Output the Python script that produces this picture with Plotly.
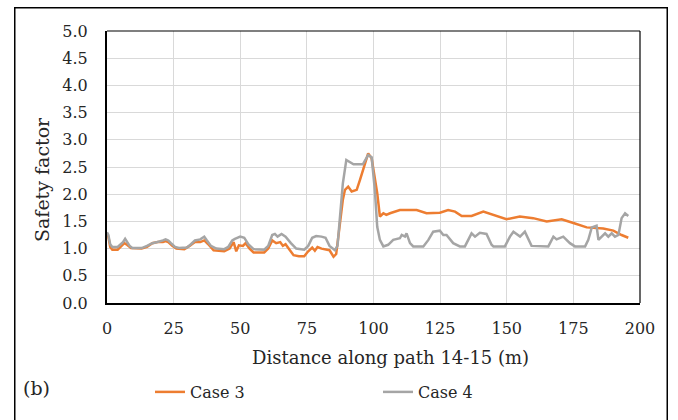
import plotly.graph_objects as go

# Case 3 (orange)
case3_x = [0, 0.5, 1.2, 2, 4, 5, 6.5, 7.5, 9, 13, 15, 17, 19, 21, 22, 23, 24.5, 26, 29, 31, 33, 35, 36.5, 38,
           40, 44, 46, 47.5, 48.5, 49.5, 51, 52, 53.5, 55, 59, 60.5, 62, 63.5, 65, 66, 67, 68.5, 70, 72, 74,
           75.5, 77, 78, 79, 80.5, 82, 83.5, 85, 86, 87, 88.5, 89.3, 90.5, 91.8, 93.7, 94.9, 96.2, 98, 99.3,
           100.5, 101.4, 102.4, 103.7, 104.8, 106.2, 109.9, 116.2, 119.9, 124.9, 128, 130.6, 133.1, 136.8,
           141.2, 144.9, 149.9, 154.9, 159.9, 165, 170.6, 175, 180, 186.2, 190, 193.1, 195.6]
case3_y = [1.28, 1.22, 1.03, 0.98, 0.98, 1.03, 1.10, 1.07, 1.01, 1.00, 1.03, 1.10, 1.12, 1.12, 1.14, 1.12, 1.05,
           1.00, 0.99, 1.05, 1.12, 1.12, 1.15, 1.08, 0.97, 0.95, 1.00, 1.12, 0.95, 1.06, 1.05, 1.10, 1.00,
           0.93, 0.93, 1.00, 1.15, 1.10, 1.12, 1.05, 1.08, 0.98, 0.88, 0.86, 0.86, 0.95, 1.02, 0.96, 1.03,
           1.00, 0.98, 0.97, 0.85, 0.90, 1.30, 1.90, 2.08, 2.14, 2.05, 2.08, 2.26, 2.48, 2.75, 2.66, 2.26,
           2.02, 1.59, 1.65, 1.62, 1.65, 1.71, 1.71, 1.65, 1.66, 1.71, 1.68, 1.60, 1.60, 1.68, 1.62, 1.54,
           1.59, 1.56, 1.50, 1.54, 1.47, 1.39, 1.37, 1.33, 1.25, 1.20]

# Case 4 (grey)
case4_x = [0, 0.5, 1.2, 2, 4, 5, 6, 6.8, 7.5, 8.5, 9.5, 13, 15, 17, 19, 20, 21, 22, 23, 24, 25.5, 27, 30, 31.5,
           33, 35, 36.5, 37.5, 39, 41, 44, 45.5, 47, 48, 50, 51.5, 53, 55, 59, 60.5, 62, 63, 64, 65.5, 67, 69,
           71, 74, 75.5, 77, 78.5, 80.5, 82, 83.5, 85.5, 86.5, 87.5, 88.5, 89.8, 91, 92.5, 96, 98, 99.3, 100.5,
           101.4, 102.4, 103.7, 105.5, 107.4, 109.9, 110.6, 111.8, 112.4, 113.7, 114.9, 118.7, 120.6, 122.4,
           124.9, 126.2, 127.4, 129.9, 132.4, 134.3, 136.8, 138.1, 139.9, 142.4, 144.3, 145, 149.3, 151.2,
           152.5, 155, 156.8, 158.1, 159.3, 165.6, 167.5, 168.7, 171.2, 173.7, 175.6, 179.4, 180.6, 181.9,
           183.7, 184.4, 185.6, 186.9, 188.1, 189.4, 190.6, 191.9, 193.1, 194.4, 195.6]
case4_y = [1.30, 1.25, 1.08, 1.03, 1.03, 1.08, 1.12, 1.18, 1.12, 1.05, 1.01, 1.01, 1.05, 1.10, 1.12, 1.13, 1.15,
           1.17, 1.15, 1.10, 1.03, 1.01, 1.02, 1.08, 1.15, 1.17, 1.22, 1.15, 1.05, 1.00, 0.99, 1.03, 1.15, 1.18,
           1.22, 1.20, 1.08, 0.99, 0.98, 1.05, 1.25, 1.27, 1.22, 1.27, 1.22, 1.10, 1.00, 0.98, 1.05, 1.20, 1.23,
           1.22, 1.20, 1.05, 0.97, 1.05, 1.60, 2.20, 2.63, 2.60, 2.55, 2.55, 2.72, 2.68, 2.08, 1.40, 1.16, 1.04,
           1.07, 1.16, 1.19, 1.25, 1.22, 1.28, 1.10, 1.04, 1.04, 1.16, 1.31, 1.33, 1.25, 1.25, 1.10, 1.04, 1.04,
           1.28, 1.22, 1.29, 1.27, 1.07, 1.04, 1.04, 1.22, 1.31, 1.22, 1.31, 1.16, 1.05, 1.04, 1.22, 1.17, 1.22,
           1.10, 1.04, 1.04, 1.16, 1.39, 1.42, 1.16, 1.22, 1.28, 1.22, 1.28, 1.22, 1.25, 1.56, 1.65, 1.60]

x_ticks = [0, 25, 50, 75, 100, 125, 150, 175, 200]
y_ticks = [0.0, 0.5, 1.0, 1.5, 2.0, 2.5, 3.0, 3.5, 4.0, 4.5, 5.0]

FONT = "DejaVu Serif"
W, H = 678, 420
L, R, T, B = 107, 640, 31, 303


def px(x):
    return (x - L) / (R - L)


def py(y):
    return (B - y) / (B - T)


fig = go.Figure()
fig.add_trace(go.Scatter(x=case3_x, y=case3_y, mode="lines", name="Case 3",
                         line=dict(color="#ED7D31", width=2.5)))
fig.add_trace(go.Scatter(x=case4_x, y=case4_y, mode="lines", name="Case 4",
                         line=dict(color="#A5A5A5", width=2.5)))

fig.update_layout(
    width=W, height=H,
    margin=dict(l=L, r=W - R, t=T, b=H - B),
    paper_bgcolor="white", plot_bgcolor="white",
    font=dict(family=FONT, size=16, color="#262626"),
    showlegend=True,
    legend=dict(orientation="h", xref="container", yref="container",
                x=150 / W, y=1 - 392 / H, xanchor="left", yanchor="middle",
                entrywidth=183, entrywidthmode="pixels",
                font=dict(family=FONT, size=16, color="#262626"),
                bgcolor="rgba(0,0,0,0)"),
    xaxis=dict(range=[0, 200], tickvals=x_ticks, ticktext=[str(v) for v in x_ticks],
               showgrid=True, gridcolor="#D9D9D9", gridwidth=1,
               showline=True, linecolor="black", linewidth=2,
               zeroline=False, ticks="", ticklabelstandoff=10,
               tickfont=dict(family=FONT, size=16, color="#262626")),
    yaxis=dict(range=[0, 5], tickvals=y_ticks, ticktext=[f"{v:.1f}" for v in y_ticks],
               showgrid=True, gridcolor="#D9D9D9", gridwidth=1,
               showline=True, linecolor="black", linewidth=2,
               zeroline=False, ticks="", ticklabelstandoff=14,
               tickfont=dict(family=FONT, size=16, color="#262626")),
    annotations=[
        dict(text="Safety factor", xref="paper", yref="paper", x=px(42), y=py(180),
             textangle=-90, showarrow=False, xanchor="center", yanchor="middle",
             font=dict(family=FONT, size=19, color="#262626")),
        dict(text="Distance along path 14-15 (m)", xref="paper", yref="paper", x=px(390), y=py(357),
             showarrow=False, xanchor="center", yanchor="middle",
             font=dict(family=FONT, size=18, color="#262626")),
        dict(text="(b)", xref="paper", yref="paper", x=px(36), y=py(388),
             showarrow=False, xanchor="center", yanchor="middle",
             font=dict(family=FONT, size=19, color="#262626")),
        # outer chart frame (drawn as an empty bordered box)
        dict(text=" ", xref="paper", yref="paper", x=px(14), y=py(7),
             xanchor="left", yanchor="top", width=651, height=430, borderpad=0,
             bordercolor="black", borderwidth=1.5, showarrow=False, captureevents=False),
    ],
    shapes=[
        # plot area top and right border
        dict(type="line", xref="paper", yref="paper", x0=0, x1=1, y0=1, y1=1,
             line=dict(color="black", width=1.2)),
        dict(type="line", xref="paper", yref="paper", x0=1, x1=1, y0=0, y1=1,
             line=dict(color="black", width=1.2)),
    ],
)

fig.write_html("out.html", config={"displayModeBar": False},
               post_script="document.body.style.margin='0';document.body.style.overflow='hidden';")
